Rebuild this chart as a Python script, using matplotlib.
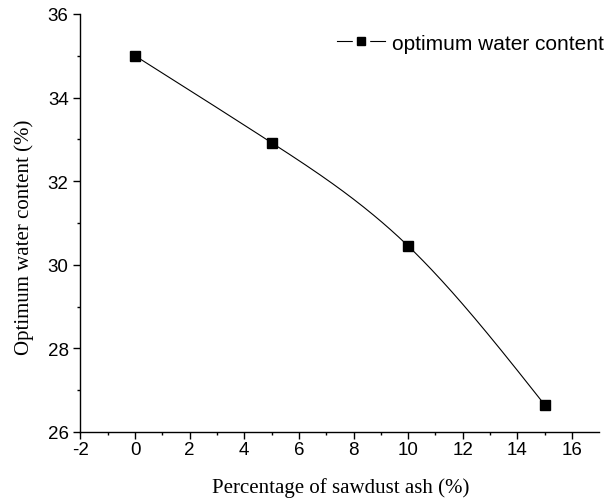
import numpy as np
import matplotlib
matplotlib.use("Agg")
import matplotlib.pyplot as plt
from matplotlib.lines import Line2D
from matplotlib.legend_handler import HandlerTuple

plt.rcParams["axes.unicode_minus"] = False

# data
ash_pct = [0, 5, 10, 15]
water_content = [35.0, 32.92, 30.45, 26.65]
x_ticks = [-2, 0, 2, 4, 6, 8, 10, 12, 14, 16]
y_ticks = [26, 28, 30, 32, 34, 36]


def natural_spline(x, y, n=200):
    # plain natural cubic spline, just for drawing the smooth connecting line
    x = np.asarray(x, float)
    y = np.asarray(y, float)
    k = len(x)
    h = np.diff(x)
    A = np.zeros((k, k))
    b = np.zeros(k)
    A[0, 0] = A[-1, -1] = 1
    for i in range(1, k - 1):
        A[i, i - 1] = h[i - 1]
        A[i, i] = 2 * (h[i - 1] + h[i])
        A[i, i + 1] = h[i]
        b[i] = 6 * ((y[i + 1] - y[i]) / h[i] - (y[i] - y[i - 1]) / h[i - 1])
    M = np.linalg.solve(A, b)
    xs = np.linspace(x[0], x[-1], n)
    idx = np.clip(np.searchsorted(x, xs) - 1, 0, k - 2)
    t0 = x[idx]
    t1 = x[idx + 1]
    hh = t1 - t0
    ys = (M[idx] * (t1 - xs) ** 3 / (6 * hh) + M[idx + 1] * (xs - t0) ** 3 / (6 * hh)
          + (y[idx] / hh - M[idx] * hh / 6) * (t1 - xs)
          + (y[idx + 1] / hh - M[idx + 1] * hh / 6) * (xs - t0))
    return xs, ys


fig = plt.figure(figsize=(6.14, 5.02), dpi=100)
ax = fig.add_axes([0.131, 0.1375, 0.845, 0.8327])

xs, ys = natural_spline(ash_pct, water_content)
ax.plot(xs, ys, color="black", lw=0.8)
ax.plot(ash_pct, water_content, ls="none", marker="s", ms=6.7, color="black")

ax.set_xlim(-2, 17)
ax.set_ylim(26, 36)
ax.set_xticks(x_ticks)
ax.set_yticks(y_ticks)
ax.set_xticks(np.arange(-1, 17, 2), minor=True)
ax.set_yticks(np.arange(27, 36, 2), minor=True)

for s in ["top", "right"]:
    ax.spines[s].set_visible(False)
for s in ["left", "bottom"]:
    ax.spines[s].set_linewidth(1.0)

ax.tick_params(which="major", direction="out", length=5, width=1.0,
               labelsize=13.5)
ax.tick_params(which="minor", direction="out", length=2.5, width=1.0)
ax.tick_params(axis="x", which="major", pad=1.5)
ax.tick_params(axis="y", which="major", pad=3.5)
for lab in ax.get_xticklabels() + ax.get_yticklabels():
    lab.set_family("Liberation Sans")

ax.set_xlabel("Percentage of sawdust ash (%)", family="Liberation Serif",
              fontsize=15)
ax.set_ylabel("Optimum water content (%)", family="Liberation Serif",
              fontsize=15)
ax.xaxis.set_label_coords(0.502, -0.108)
ax.yaxis.set_label_coords(-0.09, 0.468)

# legend handle: line broken around the square marker, like Origin draws it
h_line = Line2D([], [], color="black", lw=0.8)
h_gap = Line2D([], [], ls="none", marker="s", ms=12, color="white")
h_mark = Line2D([], [], ls="none", marker="s", ms=5.8, color="black")
leg = ax.legend([(h_line, h_gap, h_mark)], ["optimum water content"],
                handler_map={tuple: HandlerTuple(ndivide=1, pad=0)},
                loc="center left", bbox_to_anchor=(0.549, 0.912),
                bbox_transform=fig.transFigure, frameon=False,
                borderpad=0, borderaxespad=0,
                handlelength=2.3, handletextpad=0.35,
                prop={"family": "Liberation Sans", "size": 15})
leg.set_clip_on(False)

fig.savefig("out.png", dpi=100)
